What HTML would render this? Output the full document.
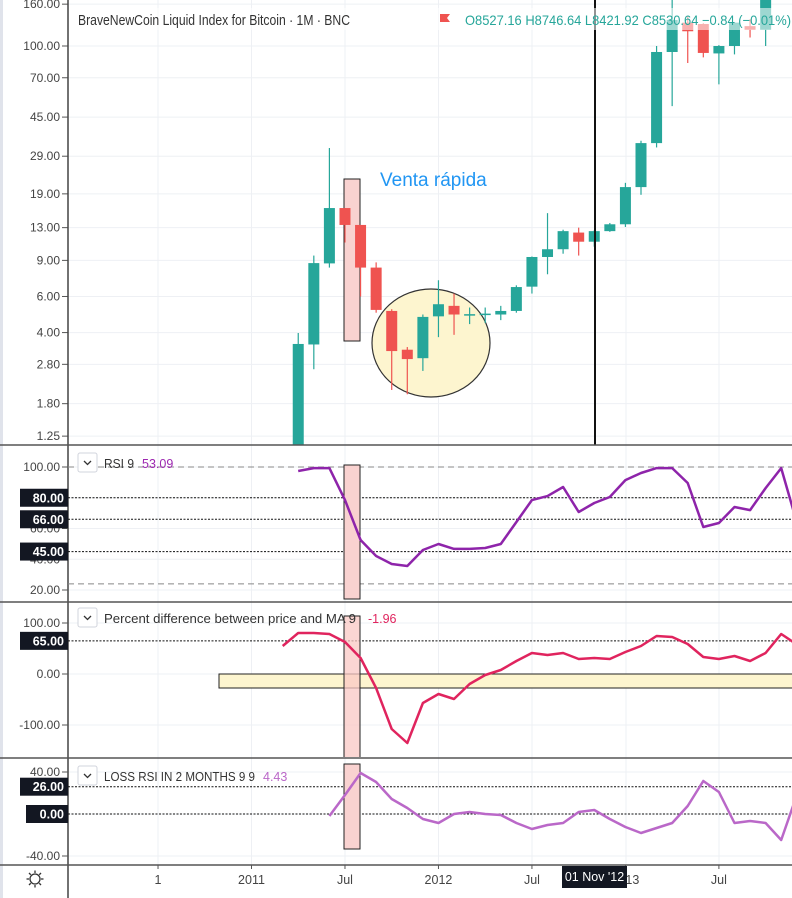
<!DOCTYPE html>
<html><head><meta charset="utf-8"><style>
html,body{margin:0;padding:0;background:#fff;}
svg{display:block;font-family:"Liberation Sans",sans-serif;}
</style></head><body>
<svg id="c" width="792" height="898" viewBox="0 0 792 898" xmlns="http://www.w3.org/2000/svg">
<defs>
<clipPath id="cpMain"><rect x="68" y="0" width="724" height="445"/></clipPath>
<clipPath id="cpRsi"><rect x="68" y="447" width="724" height="154"/></clipPath>
<clipPath id="cpPct"><rect x="68" y="603" width="724" height="154"/></clipPath>
<clipPath id="cpLoss"><rect x="68" y="759" width="724" height="106"/></clipPath>
</defs>
<g id="root"></g>
</svg>
<script>
// ---- data ----
const candleMonths=[3,4,5,6,7,8,9,10,11,12,13,14,15,16,17,18,19,20,21,22,23,24,25,26,27,28,29,30,31,32,33];
const opens =[0.8,3.5,8.7,16.2,13.4,8.3,5.1,3.3,3.0,4.8,5.4,4.9,4.92,4.9,5.1,6.7,9.35,10.2,12.3,11.1,12.5,13.5,20.5,33.6,93.5,130,128,92,100,125,120];
const highs =[3.98,9.5,31.8,16.2,13.4,8.8,5.2,3.4,4.9,7.2,6.2,5.3,5.3,5.4,6.8,9.4,15.3,12.7,13.0,12.6,13.7,21.5,34.5,100,230,140,129,101,131,135,250];
const lows  =[0.7,2.65,8.3,11,6.0,5.0,2.1,2.0,2.6,3.8,3.9,4.4,4.45,4.6,5.0,6.2,7.7,9.7,9.5,10.5,12.4,13.1,18.8,32,50.9,82.6,88,65,91,110,100];
const closes=[3.52,8.73,16.2,13.4,8.3,5.16,3.25,2.97,4.77,5.5,4.9,4.92,4.95,5.1,6.67,9.35,10.2,12.5,11.1,12.5,13.5,20.5,33.6,93.5,134,118,92.5,100,130,120,200];
const priceTicks=[160,100,70,45,29,19,13,9,6,4,2.8,1.8,1.25];
const priceTickLabels=["160.00","100.00","70.00","45.00","29.00","19.00","13.00","9.00","6.00","4.00","2.80","1.80","1.25"];

const rsiStart=3;
const rsiValues=[97.4,99.3,99.3,78.5,52.5,42.1,36.9,35.6,46,49.9,46.7,46.7,47.3,49.9,64.2,78.5,81.1,87,70.7,76.6,80.5,91.5,96.1,99.3,99.3,89.6,61,63.6,74,72,86.3,99.3,64];
const rsiTicks=[100,60,40,20];
const rsiTickLabels=["100.00","60.00","40.00","20.00"];
const rsiLevels=[80,66,45];
const rsiLevelLabels=["80.00","66.00","45.00"];

const pctStart=2;
const pctValues=[54.9,80.4,80.4,78.4,62.7,31.4,-27.5,-107.8,-135.3,-56.9,-39.2,-49,-19.6,-2,7.8,25.5,41.2,37.3,41.2,29.4,31.4,29.4,43.1,54.9,74.5,72.5,58.8,33.3,29.4,35.3,25.5,41.2,78.4,58];
const pctTicks=[100,0,-100];
const pctTickLabels=["100.00","0.00","-100.00"];

const lossStart=5;
const lossValues=[-1.9,18.1,39,30.5,14.3,5.7,-4.8,-8.6,0,1.9,0,-1,-8.6,-14.3,-10.5,-8.6,1.9,3.8,-4.8,-12.4,-18.1,-13.3,-8.6,7.6,31.4,21,-8.6,-6.7,-8.6,-24.8,18];
const lossTicks=[40,-40];
const lossTickLabels=["40.00","-40.00"];

const timeMonths=[-6,0,6,12,18,24,30];
const timeLabels=["1","2011","Jul","2012","Jul","2013","Jul"];

// ---- scales ----
const X=m=>251.5+15.58*m;
const Yp=p=>46+(2-Math.log10(p))*205;
const Yr=v=>467+(100-v)*1.5375;
const Yc=v=>674-v*0.51;
const Yl=v=>814-v*1.05;

const NS="http://www.w3.org/2000/svg";
const root=document.getElementById('root');
function el(tag,attrs,parent){const e=document.createElementNS(NS,tag);for(const k in attrs)e.setAttribute(k,attrs[k]);(parent||root).appendChild(e);return e;}
function txt(s,attrs,parent){const e=el('text',attrs,parent);e.textContent=s;return e;}

el('rect',{x:0,y:0,width:3,height:898,fill:'#e0e3eb'});

// grid
const grid=el('g',{});


[158,251.5,345,438.5,532,626,719].forEach(x=>el('line',{x1:x,y1:0,x2:x,y2:865,stroke:'#eef0f4','stroke-width':1},grid));
priceTicks.forEach(p=>el('line',{x1:68,y1:Yp(p),x2:792,y2:Yp(p),stroke:'#eef0f4'},grid));
[100,80,60,40,20].forEach(v=>el('line',{x1:68,y1:Yr(v),x2:792,y2:Yr(v),stroke:'#eef0f4'},grid));
[100,0,-100].forEach(v=>el('line',{x1:68,y1:Yc(v),x2:792,y2:Yc(v),stroke:'#eef0f4'},grid));
[40,0,-40].forEach(v=>el('line',{x1:68,y1:Yl(v),x2:792,y2:Yl(v),stroke:'#eef0f4'},grid));

// ---- main pane ----
const main=el('g',{'clip-path':'url(#cpMain)'});


const ell=el('ellipse',{cx:431,cy:343,rx:59,ry:54,fill:'#fdf5cf',stroke:'#333','stroke-width':1.2},main);


const pr=el('rect',{x:344,y:179,width:16,height:162,fill:'#f9d2d0',stroke:'#222','stroke-width':1},main);


candleMonths.forEach((m,i)=>{
  const up=closes[i]>=opens[i];
  const col=up?'#26a69a':'#ef5350';
  const g=el('g',{},main);
  
  
  const x=X(m);
  el('line',{x1:x,y1:Yp(highs[i]),x2:x,y2:Yp(lows[i]),stroke:col,'stroke-width':1.2},g);
  const y1=Yp(Math.max(opens[i],closes[i])),y2=Yp(Math.min(opens[i],closes[i]));
  el('rect',{x:x-5.5,y:y1,width:11,height:Math.max(1.5,y2-y1),fill:col},g);
});
const cross=el('line',{x1:595,y1:0,x2:595,y2:445,stroke:'#111','stroke-width':2},main);


const vr=txt('Venta rápida',{x:380,y:186,'font-size':19,fill:'#2196f3'},main);


el('rect',{x:72,y:8,width:720,height:22,fill:'rgba(255,255,255,0.55)'});
const t1=txt('BraveNewCoin Liquid Index for Bitcoin · 1M · BNC',{x:78,y:25,'font-size':15,fill:'#333',textLength:272,lengthAdjust:'spacingAndGlyphs'});


el('path',{d:'M440 14 h10 l-3 4 l3 4 h-10 z',fill:'#ef5350'});
const ohlc=txt('O8527.16  H8746.64  L8421.92  C8530.64  −0.84 (−0.01%)',{x:465,y:25,'font-size':14,fill:'#26a69a',textLength:326,lengthAdjust:'spacingAndGlyphs'});



priceTicks.forEach((p,i)=>{
  const y=Yp(p);
  el('line',{x1:62,y1:y,x2:68,y2:y,stroke:'#555'});
  const t=txt(priceTickLabels[i],{x:60,y:y+4,'font-size':12,fill:'#444','text-anchor':'end'});
  
  
});

el('line',{x1:68,y1:0,x2:68,y2:898,stroke:'#444','stroke-width':1.5});
[445,602,758,865].forEach(y=>el('line',{x1:0,y1:y,x2:792,y2:y,stroke:'#555','stroke-width':1.5}));

function linePts(start,vals,Y){return vals.map((v,i)=>X(start+i).toFixed(1)+','+Y(v).toFixed(1)).join(' ');}
function legendBox(y,label,labelW,val,valX,valCol,name){
  const g=el('g',{});
  
  
  el('rect',{x:78,y:y-11,width:19,height:19,rx:2,fill:'#fff',stroke:'#d1d4dc'},g);
  el('path',{d:`M84 ${y-3} l3.5 3.5 l3.5 -3.5`,fill:'none',stroke:'#333','stroke-width':1.3},g);
  txt(label,{x:104,y:y+4,'font-size':12.5,fill:'#333',textLength:labelW,lengthAdjust:'spacingAndGlyphs'},g);
  txt(val,{x:valX,'font-size':12.5,fill:valCol,y:y+4},g);
}
function levelBox(y,label,w){
  const g=el('g',{});
  
  
  el('rect',{x:68-w,y:y-9,width:w,height:18,fill:'#131722'},g);
  txt(label,{x:64,y:y+4.5,'font-size':12.5,fill:'#fff','text-anchor':'end','font-weight':'bold'},g);
}

// ---- RSI pane ----
const rsi=el('g',{'clip-path':'url(#cpRsi)'});


el('line',{x1:68,y1:Yr(100),x2:792,y2:Yr(100),stroke:'#888','stroke-dasharray':'6,4'},rsi);
el('line',{x1:68,y1:Yr(24),x2:792,y2:Yr(24),stroke:'#888','stroke-dasharray':'6,4'},rsi);
rsiLevels.forEach(v=>el('line',{x1:68,y1:Yr(v),x2:792,y2:Yr(v),stroke:'#111','stroke-dasharray':'2,1.5'},rsi));
el('rect',{x:344,y:465,width:16,height:134,fill:'#f9d2d0',stroke:'#222'},rsi);
const rl=el('polyline',{points:linePts(rsiStart,rsiValues,Yr),fill:'none',stroke:'#8e24aa','stroke-width':2.5,'stroke-linejoin':'round'},rsi);


rsiTicks.forEach((v,i)=>{const y=Yr(v);el('line',{x1:62,y1:y,x2:68,y2:y,stroke:'#555'});txt(rsiTickLabels[i],{x:60,y:y+4,'font-size':12,fill:'#444','text-anchor':'end'});});
rsiLevels.forEach((v,i)=>levelBox(Yr(v),rsiLevelLabels[i],48));
legendBox(464,'RSI 9',30,'53.09',142,'#9c27b0','rsi-legend');

// ---- Percent pane ----
const pct=el('g',{'clip-path':'url(#cpPct)'});


el('line',{x1:68,y1:Yc(65),x2:792,y2:Yc(65),stroke:'#111','stroke-dasharray':'2,1.5'},pct);
const yr=el('rect',{x:219,y:674,width:580,height:14,fill:'#fdf5cf',stroke:'#222'},pct);


el('rect',{x:344,y:616,width:16,height:145,fill:'rgba(249,200,196,0.75)',stroke:'#222'},pct);
const pl=el('polyline',{points:linePts(pctStart,pctValues,Yc),fill:'none',stroke:'#e0245e','stroke-width':2.5,'stroke-linejoin':'round'},pct);


pctTicks.forEach((v,i)=>{const y=Yc(v);el('line',{x1:62,y1:y,x2:68,y2:y,stroke:'#555'});txt(pctTickLabels[i],{x:60,y:y+4,'font-size':12,fill:'#444','text-anchor':'end'});});
levelBox(Yc(65),'65.00',48);
legendBox(619,'Percent difference between price and MA 9',252,'-1.96',368,'#e0245e','percent-legend');

// ---- Loss pane ----
const loss=el('g',{'clip-path':'url(#cpLoss)'});


[26,0].forEach(v=>el('line',{x1:68,y1:Yl(v),x2:792,y2:Yl(v),stroke:'#111','stroke-dasharray':'2,1.5'},loss));
el('rect',{x:344,y:764,width:16,height:85,fill:'#f9d2d0',stroke:'#222'},loss);
const ll=el('polyline',{points:linePts(lossStart,lossValues,Yl),fill:'none',stroke:'#ba68c8','stroke-width':2.5,'stroke-linejoin':'round'},loss);


lossTicks.forEach((v,i)=>{const y=Yl(v);el('line',{x1:62,y1:y,x2:68,y2:y,stroke:'#555'});txt(lossTickLabels[i],{x:60,y:y+4,'font-size':12,fill:'#444','text-anchor':'end'});});
levelBox(Yl(26),'26.00',48);
levelBox(Yl(0),'0.00',42);
legendBox(777,'LOSS RSI IN 2 MONTHS 9 9',151,'4.43',263,'#ba68c8','loss-legend');

// ---- time axis ----
timeMonths.forEach((m,i)=>{
  const x=X(m);
  el('line',{x1:x,y1:865,x2:x,y2:869,stroke:'#555'});
  const t=txt(timeLabels[i],{x:x,y:884,'font-size':12.5,fill:'#444','text-anchor':'middle'});
  
  
});
const tb=el('g',{});


el('rect',{x:562,y:866,width:65,height:22,fill:'#131722'},tb);
txt("01 Nov '12",{x:594.5,y:881,'font-size':12.5,fill:'#fff','text-anchor':'middle'},tb);
const gi=el('g',{});


el('circle',{cx:35,cy:879,r:5,fill:'none',stroke:'#333','stroke-width':1.3},gi);
for(let a=0;a<8;a++){const r=a*Math.PI/4;el('line',{x1:35+Math.cos(r)*6,y1:879+Math.sin(r)*6,x2:35+Math.cos(r)*8.5,y2:879+Math.sin(r)*8.5,stroke:'#333','stroke-width':1.3},gi);}
</script>
</body></html>
